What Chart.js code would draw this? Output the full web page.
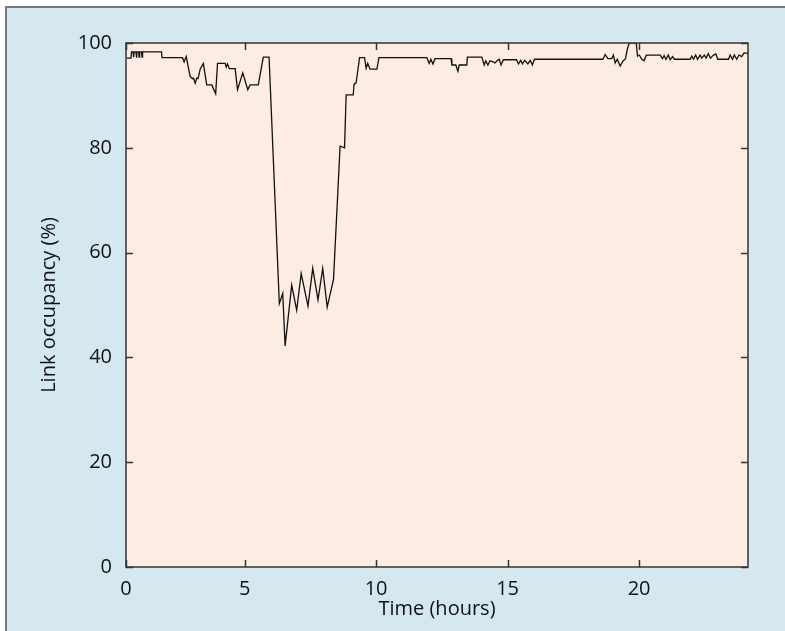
<!DOCTYPE html>
<html>
<head>
<meta charset="utf-8">
<title>Link occupancy</title>
<script src="https://cdn.jsdelivr.net/npm/chart.js@4.4.1/dist/chart.umd.min.js"></script>
<style>
  html, body { margin: 0; padding: 0; background: #fff; }
  body { width: 785px; height: 631px; position: relative; overflow: hidden; }
  #frame {
    position: absolute; left: 5px; top: 6px; right: 0; bottom: 0;
    background: #d5e8f0;
    border-left: 2px solid #6f7b80;
    border-top: 2px solid #6f7b80;
  }
  #chart { position: absolute; left: 0; top: 0; }
</style>
</head>
<body>
<div id="frame"></div>
<canvas id="chart" width="785" height="631"></canvas>
<script>
// time of each sample, hours
var xHours = [
  0.51, 0.68, 0.70, 0.76, 0.78, 0.80, 0.87, 0.89, 0.90, 0.97, 0.99, 1.01, 1.08, 1.10, 1.12,
  1.84, 1.86, 2.64, 2.70, 2.78, 2.93, 3.02, 3.06, 3.12, 3.18, 3.23, 3.31, 3.43, 3.56, 3.75,
  3.90, 3.97, 4.26, 4.30, 4.35, 4.42, 4.64, 4.73, 4.93, 5.12, 5.21, 5.52, 5.71, 5.93,
  6.32, 6.45, 6.54, 6.79, 6.98, 7.15, 7.41, 7.59, 7.79, 7.97, 8.14, 8.38, 8.63, 8.80,
  8.86, 9.13, 9.16, 9.24, 9.37, 9.56, 9.62, 9.68, 9.77, 10.03, 10.11, 11.93, 12.02, 12.08,
  12.16, 12.24, 12.85, 12.88, 13.03, 13.11, 13.16, 13.45, 13.47, 14.02, 14.11, 14.17, 14.25,
  14.33, 14.45, 14.52, 14.60, 14.68, 14.75, 14.84, 15.34, 15.41, 15.50, 15.56, 15.65, 15.77,
  15.86, 15.94, 16.02, 18.62, 18.71, 18.81, 18.96, 19.02, 19.09, 19.17, 19.28, 19.38, 19.48,
  19.56, 19.63, 19.89, 19.94, 20.01, 20.10, 20.19, 20.27, 20.80, 20.89, 20.95, 21.02, 21.11,
  21.18, 21.27, 21.34, 21.94, 22.00, 22.07, 22.15, 22.22, 22.32, 22.38, 22.48, 22.55, 22.63,
  22.71, 22.83, 22.92, 22.99, 23.40, 23.46, 23.55, 23.62, 23.71, 23.80, 23.90, 23.99, 24.14
];
// link occupancy, %
var occupancy = [
  97.1, 97.1, 98.3, 98.3, 97.3, 98.3, 98.3, 97.3, 98.3, 98.3, 97.3, 98.3, 98.3, 97.3, 98.3,
  98.3, 97.2, 97.2, 96.4, 97.4, 93.6, 93.2, 93.3, 92.3, 93.3, 93.2, 95.0, 96.1, 92.0, 92.0,
  90.3, 96.1, 96.1, 95.4, 96.0, 95.1, 95.1, 91.1, 94.3, 91.1, 92.0, 92.0, 97.3, 97.3,
  50.3, 52.2, 42.2, 53.8, 49.0, 56.0, 49.8, 57.0, 51.0, 57.0, 49.6, 54.9, 80.3, 80.0,
  90.1, 90.1, 92.1, 92.4, 97.2, 97.2, 95.2, 96.1, 95.0, 95.0, 97.2, 97.2, 96.1, 96.9,
  96.0, 97.0, 97.0, 95.8, 95.8, 94.6, 95.8, 95.8, 97.3, 97.3, 95.8, 96.6, 95.8,
  96.6, 96.4, 96.2, 96.6, 96.9, 95.8, 96.8, 96.8, 96.0, 96.7, 96.0, 96.7, 96.0,
  96.7, 95.8, 96.9, 96.9, 97.8, 97.0, 97.0, 97.7, 96.2, 96.9, 95.6, 96.5, 97.0,
  99.0, 100, 100, 97.5, 97.7, 96.9, 96.6, 97.7, 97.7, 97.0, 97.6, 96.9, 97.7,
  96.8, 97.4, 96.9, 96.9, 97.5, 96.9, 97.7, 96.9, 97.7, 97.1, 97.7, 97.1, 98.0,
  97.1, 97.7, 97.9, 96.9, 96.9, 97.7, 96.9, 97.7, 96.9, 97.7, 97.4, 98.1, 98.0
];
var xTickValues = [0.49, 5, 10, 15, 20];
var xTickLabels = ["0", "5", "10", "15", "20"];
var yTickValues = [0, 20, 40, 60, 80, 100];

(function () {
  var canvas = document.getElementById("chart");
  var ink = "#111";
  var font = { family: "'Open Sans', 'Noto Sans', sans-serif", size: 20 };

  var points = xHours.map(function (h, i) {
    return { x: h, y: occupancy[i] };
  });

  // peach plot area, frame and inward tick marks like the printed figure
  var plotFrame = {
    id: "plotFrame",
    beforeDatasetsDraw: function (chart) {
      var a = chart.chartArea;
      var ctx = chart.ctx;
      ctx.save();
      ctx.fillStyle = "#fdece3";
      ctx.fillRect(a.left, a.top, a.right - a.left, a.bottom - a.top);
      ctx.restore();
    },
    afterDatasetsDraw: function (chart) {
      var a = chart.chartArea;
      var ctx = chart.ctx;
      var xs = chart.scales.x;
      var ys = chart.scales.y;
      var len = 7;
      ctx.save();
      ctx.strokeStyle = "#333";
      ctx.lineWidth = 1.5;
      ctx.beginPath();
      xTickValues.forEach(function (v) {
        var px = Math.round(xs.getPixelForValue(v)) + 0.5;
        ctx.moveTo(px, a.bottom);
        ctx.lineTo(px, a.bottom - len);
        ctx.moveTo(px, a.top);
        ctx.lineTo(px, a.top + len);
      });
      yTickValues.forEach(function (v) {
        var py = Math.round(ys.getPixelForValue(v)) + 0.5;
        ctx.moveTo(a.left, py);
        ctx.lineTo(a.left + len, py);
        ctx.moveTo(a.right, py);
        ctx.lineTo(a.right - len, py);
      });
      ctx.stroke();
      ctx.strokeRect(a.left, a.top, a.right - a.left, a.bottom - a.top);
      ctx.restore();
    },
  };

  new Chart(canvas, {
    type: "line",
    data: {
      datasets: [
        {
          data: points,
          borderColor: "#111",
          borderWidth: 1.3,
          pointRadius: 0,
          tension: 0,
          fill: false,
        },
      ],
    },
    options: {
      responsive: false,
      animation: false,
      layout: { padding: { top: 43, right: 37, left: 0, bottom: 0 } },
      plugins: { legend: { display: false }, tooltip: { enabled: false } },
      scales: {
        x: {
          type: "linear",
          min: 0.49,
          max: 24.14,
          grid: { display: false, drawTicks: false },
          border: { display: false },
          afterBuildTicks: function (scale) {
            scale.ticks = xTickValues.map(function (v) {
              return { value: v };
            });
          },
          afterFit: function (scale) {
            scale.height = 64;
          },
          ticks: {
            color: ink,
            font: font,
            padding: 10,
            maxRotation: 0,
            autoSkip: false,
            callback: function (value, index) {
              return xTickLabels[index];
            },
          },
          title: {
            display: true,
            text: "Time (hours)",
            color: ink,
            font: font,
            padding: { top: 0, bottom: 10 },
          },
        },
        y: {
          type: "linear",
          min: 0,
          max: 100,
          grid: { display: false, drawTicks: false },
          border: { display: false },
          afterBuildTicks: function (scale) {
            scale.ticks = yTickValues.map(function (v) {
              return { value: v };
            });
          },
          afterFit: function (scale) {
            scale.width = 126;
          },
          ticks: {
            color: ink,
            font: font,
            padding: 14,
          },
          title: {
            display: true,
            text: "Link occupancy (%)",
            color: ink,
            font: font,
            padding: { top: 37, bottom: 0 },
          },
        },
      },
    },
    plugins: [plotFrame],
  });
})();
</script>
</body>
</html>
